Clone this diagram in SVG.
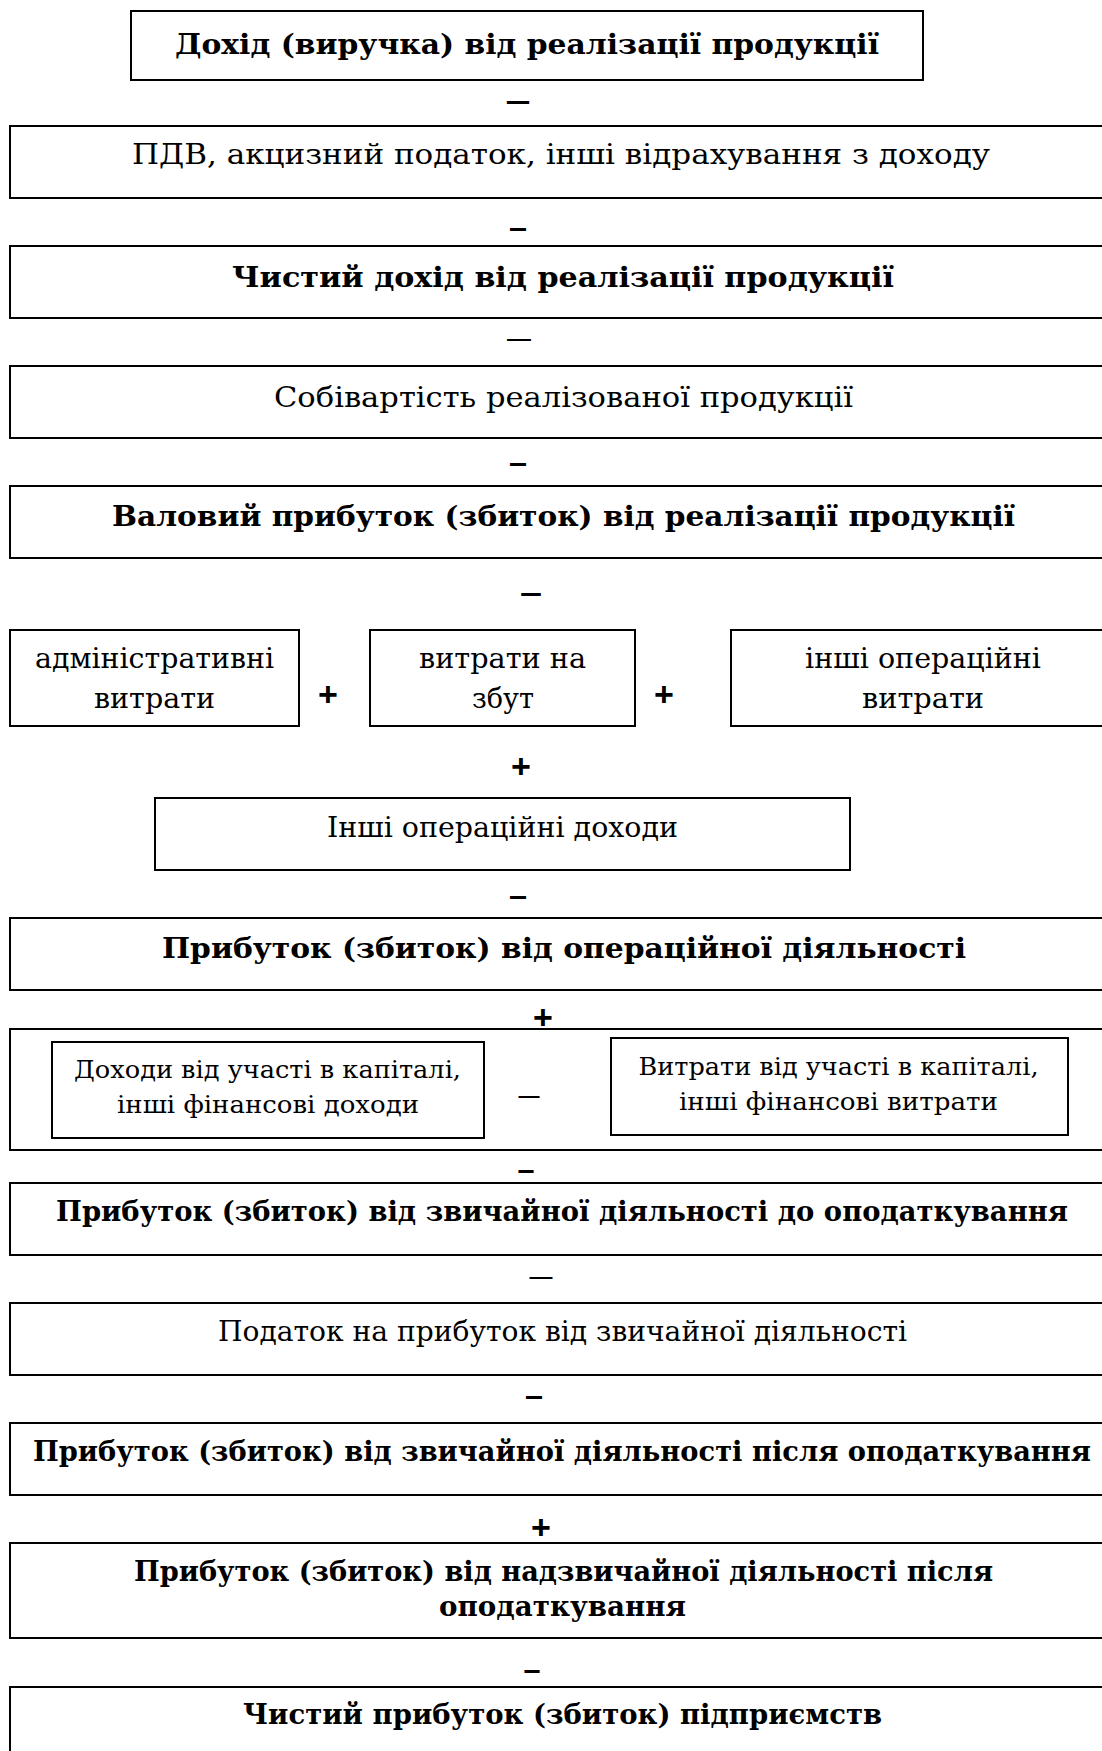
<svg xmlns="http://www.w3.org/2000/svg" width="1102" height="1751" viewBox="0 0 1102 1751">
<style>
rect.box { fill: #fff; stroke: #000; stroke-width: 2; }
text { fill: #000; text-anchor: middle; }
.b { font-family: "DejaVu Serif", "Liberation Serif", serif; font-weight: bold; font-size: 27px; }
.r { font-family: "DejaVu Serif", "Liberation Serif", serif; font-size: 28px; }
.s { font-family: "DejaVu Serif", "Liberation Serif", serif; font-size: 24px; }
.op { font-family: "Liberation Sans", Arial, sans-serif; font-weight: bold; font-size: 30px; }
.opt { font-family: "Liberation Sans", Arial, sans-serif; font-weight: normal; font-size: 30px; }
.pl { font-family: "Liberation Sans", Arial, sans-serif; font-weight: bold; font-size: 34px; }
</style>
<rect width="1102" height="1751" fill="#fff"/>

<g id="n1">
<rect class="box" x="131" y="11" width="792" height="69"/>
<text class="b" x="527" y="54" textLength="704" lengthAdjust="spacingAndGlyphs">Дохід (виручка) від реалізації продукції</text>
</g>
<g id="n2">
<rect class="box" x="10" y="126" width="1104" height="72"/>
<text class="r" x="561" y="164" textLength="858" lengthAdjust="spacingAndGlyphs">ПДВ, акцизний податок, інші відрахування з доходу</text>
</g>
<g id="n3">
<rect class="box" x="10" y="246" width="1104" height="72"/>
<text class="b" x="563" y="287" textLength="662" lengthAdjust="spacingAndGlyphs">Чистий дохід від реалізації продукції</text>
</g>
<g id="n4">
<rect class="box" x="10" y="366" width="1104" height="72"/>
<text class="r" x="563.5" y="407" textLength="579" lengthAdjust="spacingAndGlyphs">Собівартість реалізованої продукції</text>
</g>
<g id="n5">
<rect class="box" x="10" y="486" width="1104" height="72"/>
<text class="b" x="563.5" y="526" textLength="903" lengthAdjust="spacingAndGlyphs">Валовий прибуток (збиток) від реалізації продукції</text>
</g>
<g id="n6a">
<rect class="box" x="10" y="630" width="289" height="96"/>
<text class="r" x="154.5" y="668" textLength="239" lengthAdjust="spacingAndGlyphs">адміністративні</text>
<text class="r" x="154.5" y="708" textLength="121" lengthAdjust="spacingAndGlyphs">витрати</text>
</g>
<g id="n6b">
<rect class="box" x="370" y="630" width="265" height="96"/>
<text class="r" x="502.5" y="668" textLength="167" lengthAdjust="spacingAndGlyphs">витрати на</text>
<text class="r" x="503" y="708" textLength="62" lengthAdjust="spacingAndGlyphs">збут</text>
</g>
<g id="n6c">
<rect class="box" x="731" y="630" width="384" height="96"/>
<text class="r" x="923" y="668" textLength="236" lengthAdjust="spacingAndGlyphs">інші операційні</text>
<text class="r" x="923" y="708" textLength="122" lengthAdjust="spacingAndGlyphs">витрати</text>
</g>
<g id="n7">
<rect class="box" x="155" y="798" width="695" height="72"/>
<text class="r" x="502.5" y="837" textLength="351" lengthAdjust="spacingAndGlyphs">Інші операційні доходи</text>
</g>
<g id="n8">
<rect class="box" x="10" y="918" width="1104" height="72"/>
<text class="b" x="564" y="958" textLength="804" lengthAdjust="spacingAndGlyphs">Прибуток (збиток) від операційної діяльності</text>
</g>
<g id="n9">
<rect class="box" x="10" y="1029" width="1104" height="121"/>
<g id="n9a">
<rect class="box" x="52" y="1042" width="432" height="96"/>
<text class="s" x="267.5" y="1078" textLength="387" lengthAdjust="spacingAndGlyphs">Доходи від участі в капіталі,</text>
<text class="s" x="268" y="1113" textLength="302" lengthAdjust="spacingAndGlyphs">інші фінансові доходи</text>
</g>
<g id="n9b">
<rect class="box" x="611" y="1038" width="457" height="97"/>
<text class="s" x="838.5" y="1075" textLength="400" lengthAdjust="spacingAndGlyphs">Витрати від участі в капіталі,</text>
<text class="s" x="838.5" y="1110" textLength="319" lengthAdjust="spacingAndGlyphs">інші фінансові витрати</text>
</g>
</g>
<g id="n10">
<rect class="box" x="10" y="1183" width="1104" height="72"/>
<text class="b" x="562" y="1221" textLength="1012" lengthAdjust="spacingAndGlyphs">Прибуток (збиток) від звичайної діяльності до оподаткування</text>
</g>
<g id="n11">
<rect class="box" x="10" y="1303" width="1104" height="72"/>
<text class="r" x="562.5" y="1341" textLength="689" lengthAdjust="spacingAndGlyphs">Податок на прибуток від звичайної діяльності</text>
</g>
<g id="n12">
<rect class="box" x="10" y="1423" width="1104" height="72"/>
<text class="b" x="562" y="1461" textLength="1058" lengthAdjust="spacingAndGlyphs">Прибуток (збиток) від звичайної діяльності після оподаткування</text>
</g>
<g id="n13">
<rect class="box" x="10" y="1543" width="1104" height="95"/>
<text class="b" x="563.5" y="1581" textLength="859" lengthAdjust="spacingAndGlyphs">Прибуток (збиток) від надзвичайної діяльності після</text>
<text class="b" x="562.5" y="1616" textLength="247" lengthAdjust="spacingAndGlyphs">оподаткування</text>
</g>
<g id="n14">
<rect class="box" x="10" y="1687" width="1104" height="80"/>
<text class="b" x="562.5" y="1724" textLength="639" lengthAdjust="spacingAndGlyphs">Чистий прибуток (збиток) підприємств</text>
</g>

<g id="connectors">
<text class="op" x="518" y="111" textLength="25" lengthAdjust="spacingAndGlyphs">–</text>
<text class="op" x="518" y="238" textLength="18" lengthAdjust="spacingAndGlyphs">–</text>
<text class="opt" x="519" y="348" textLength="24" lengthAdjust="spacingAndGlyphs">–</text>
<text class="op" x="518" y="473" textLength="18" lengthAdjust="spacingAndGlyphs">–</text>
<text class="op" x="531" y="603" textLength="22" lengthAdjust="spacingAndGlyphs">–</text>
<text class="pl" x="328" y="706">+</text>
<text class="pl" x="664" y="706">+</text>
<text class="pl" x="521" y="778">+</text>
<text class="op" x="518" y="906" textLength="18" lengthAdjust="spacingAndGlyphs">–</text>
<text class="pl" x="543" y="1029">+</text>
<text class="opt" x="529" y="1105" textLength="21" lengthAdjust="spacingAndGlyphs">–</text>
<text class="op" x="526" y="1180" textLength="17" lengthAdjust="spacingAndGlyphs">–</text>
<text class="opt" x="541" y="1286" textLength="23" lengthAdjust="spacingAndGlyphs">–</text>
<text class="op" x="534" y="1406" textLength="18" lengthAdjust="spacingAndGlyphs">–</text>
<text class="pl" x="541" y="1539">+</text>
<text class="op" x="532" y="1680" textLength="17" lengthAdjust="spacingAndGlyphs">–</text>
</g>
</svg>
